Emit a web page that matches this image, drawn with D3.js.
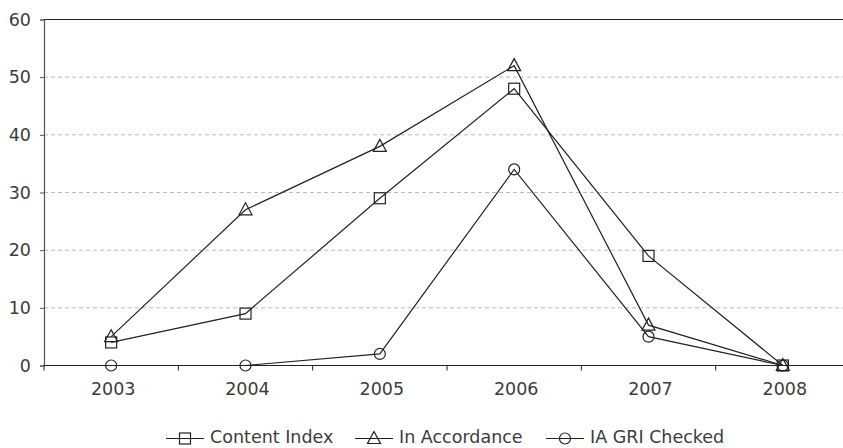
<!DOCTYPE html>
<html>
<head>
<meta charset="utf-8">
<script src="https://cdn.jsdelivr.net/npm/d3@7"></script>
<style>
  html, body { margin: 0; padding: 0; background: #fff; }
  svg text { font-family: "DejaVu Sans", sans-serif; fill: #3c3c3c; }
</style>
</head>
<body>
<svg id="chart" width="843" height="448"></svg>
<script>
// Report counts per year
const years = ["2003", "2004", "2005", "2006", "2007", "2008"];
const contentIndex = [4, 9, 29, 48, 19, 0];
const inAccordance = [5, 27, 38, 52, 7, 0];
const iaGriChecked = [0, 0, 2, 34, 5, 0];
const yTicks = [0, 10, 20, 30, 40, 50, 60];
const seriesNames = ["Content Index", "In Accordance", "IA GRI Checked"];
const seriesSymbols = ["square", "triangle", "circle"];

const series = [contentIndex, inAccordance, iaGriChecked].map((values, i) => ({
  name: seriesNames[i],
  symbol: seriesSymbols[i],
  values
}));

const svg = d3.select("#chart");
const margin = { left: 44, right: -7, top: 19.5, bottom: 82.5 };
const W = 843, H = 448;
const fontSize = "17.5px";

const x = d3.scaleBand().domain(years).range([margin.left, W - margin.right]).padding(0);
const y = d3.scaleLinear().domain([0, 60]).range([H - margin.bottom, margin.top]);

const ink = "#222";

// Dashed gridlines
svg.append("g")
  .selectAll("line")
  .data(yTicks.filter(t => t > 0 && t < 60))
  .join("line")
  .attr("x1", margin.left).attr("x2", W)
  .attr("y1", d => y(d)).attr("y2", d => y(d))
  .attr("stroke", "#bbb").attr("stroke-dasharray", "4,3").attr("stroke-width", 1);

// Top border at 60
svg.append("line")
  .attr("x1", margin.left).attr("x2", W)
  .attr("y1", y(60)).attr("y2", y(60))
  .attr("stroke", ink).attr("stroke-width", 1.2);

// Y axis
const yAxis = svg.append("g")
  .attr("transform", `translate(${margin.left},0)`)
  .call(d3.axisLeft(y).tickValues(yTicks).tickSize(4).tickPadding(9));
yAxis.select(".domain").attr("stroke", "#555").attr("stroke-width", 1.2);
yAxis.selectAll(".tick line").attr("stroke", "#555");
yAxis.selectAll("text").style("font-size", fontSize).attr("fill", "#3c3c3c")
  .style("font-family", "'DejaVu Sans', sans-serif");

// X axis with ticks at the category boundaries
const xAxisG = svg.append("g").attr("transform", `translate(0,${y(0)})`);
xAxisG.append("line")
  .attr("x1", margin.left).attr("x2", W)
  .attr("stroke", ink).attr("stroke-width", 1.2);
xAxisG.selectAll("line.tk")
  .data(years)
  .join("line")
  .attr("class", "tk")
  .attr("x1", d => x(d)).attr("x2", d => x(d))
  .attr("y1", 0).attr("y2", 5)
  .attr("stroke", ink);
xAxisG.selectAll("text")
  .data(years)
  .join("text")
  .attr("x", d => x(d) + x.bandwidth() / 2 + 2)
  .attr("y", 29.5)
  .attr("text-anchor", "middle")
  .style("font-size", fontSize)
  .text(d => d);

const cx = d => x(d) + x.bandwidth() / 2;

function drawSymbol(g, type, px, py) {
  if (type === "square") {
    g.append("rect").attr("x", px - 5.5).attr("y", py - 5.5).attr("width", 11).attr("height", 11)
      .attr("fill", "none").attr("stroke", ink).attr("stroke-width", 1.2);
  } else if (type === "triangle") {
    g.append("path")
      .attr("d", `M${px},${py - 7} L${px + 6.5},${py + 5} L${px - 6.5},${py + 5} Z`)
      .attr("fill", "none").attr("stroke", ink).attr("stroke-width", 1.2);
  } else {
    g.append("circle").attr("cx", px).attr("cy", py).attr("r", 5.5)
      .attr("fill", "none").attr("stroke", ink).attr("stroke-width", 1.2);
  }
}

const line = d3.line().x((d, i) => cx(years[i])).y(d => y(d));

series.forEach(s => {
  const g = svg.append("g");
  g.append("path").attr("d", line(s.values))
    .attr("fill", "none").attr("stroke", ink).attr("stroke-width", 1.2);
  s.values.forEach((v, i) => drawSymbol(g, s.symbol, cx(years[i]), y(v)));
});

// Legend
const legendY = 438.5;
const legendX = [166, 355, 546];
series.forEach((s, i) => {
  const g = svg.append("g");
  const lx = legendX[i];
  g.append("line").attr("x1", lx).attr("x2", lx + 38).attr("y1", legendY).attr("y2", legendY)
    .attr("stroke", ink).attr("stroke-width", 1.2);
  drawSymbol(g, s.symbol, lx + 19, legendY);
  g.append("text").attr("x", lx + 44).attr("y", legendY + 4.5)
    .style("font-size", fontSize).text(s.name);
});
</script>
</body>
</html>
